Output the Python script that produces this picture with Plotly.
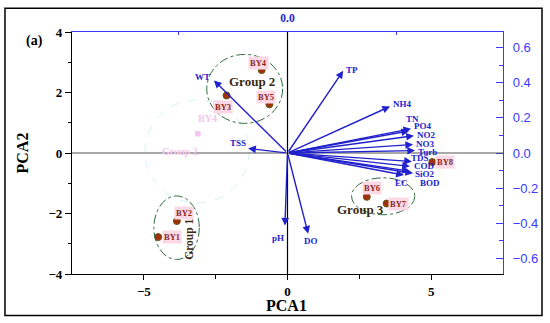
import plotly.graph_objects as go

# ---------------- data ----------------
samples = ["BY1", "BY2", "BY3", "BY4", "BY5", "BY6", "BY7", "BY8"]
pc1 = [-4.50, -3.85, -2.12, -0.90, -0.63, 2.76, 3.45, 5.04]
pc2 = [-2.78, -2.25, 1.90, 2.74, 1.61, -1.45, -1.67, -0.30]

variables = ["WT", "TSS", "TP", "NH4", "TN", "PO4", "NO2", "NO3", "Turb",
             "TDS", "COD", "SiO2", "BOD", "EC", "pH", "DO"]
load1 = [-2.56, -1.37, 1.94, 3.57, 4.23, 4.30, 4.40, 4.37, 4.44,
         4.33, 4.26, 4.26, 4.37, 4.05, -0.09, 0.72]
load2 = [2.40, 0.15, 2.72, 1.54, 0.73, 0.80, 0.57, 0.28, 0.08,
         -0.28, -0.44, -0.60, -0.67, -0.73, -2.40, -2.67]

groups = ["Group 1", "Group 2", "Group 3"]
group_cx = [-3.86, -1.49, 3.33]
group_cy = [-2.47, 2.12, -1.43]
group_rx = [0.79, 1.32, 1.10]
group_ry = [1.05, 1.14, 0.61]

x_ticks = [-5, 0, 5]
y_ticks = [-4, -2, 0, 2, 4]
y2_ticks = [-0.6, -0.4, -0.2, 0.0, 0.2, 0.4, 0.6]
y2_labels = ["\u22120.6", "\u22120.4", "\u22120.2", "0.0", "0.2", "0.4", "0.6"]

# faint residual marks visible in the source image
ghost_texts = ["BY4", "Group 2"]
ghost_x = [-2.80, -3.74]
ghost_y = [1.14, 0.05]

# ---------------- styling / layout helpers ----------------
SERIF = "Liberation Serif"
SANS = "Liberation Sans"
BLUE = "#2222cc"
AXBLUE = "#3a3aff"

var_label_shift = {
    "WT": (-11, 3), "TSS": (-10, 5), "TP": (9, 1), "NH4": (12, 2),
    "TN": (3, 12), "PO4": (11, 3), "NO2": (13, 1), "NO3": (12, 1),
    "Turb": (12, -1), "TDS": (8, 3), "COD": (15, 0), "SiO2": (15, -3),
    "BOD": (17, -10), "EC": (-2, -8), "pH": (-7, -12), "DO": (3, -7),
}
sample_label_shift = {
    "BY1": (14, 0), "BY2": (7, 8), "BY3": (-4, -11), "BY4": (-3, 7),
    "BY5": (-3, 7), "BY6": (5, 9), "BY7": (12, 0), "BY8": (13, 0),
}
group_label_pos = {"Group 1": (-3.42, -2.86, -90, 11.5),
                   "Group 2": (-1.25, 2.37, 0, 13),
                   "Group 3": (2.54, -1.88, 0, 13)}

fig = go.Figure()

# ghost dot
fig.add_trace(go.Scatter(x=[-3.12], y=[0.64], mode="markers",
                         marker=dict(size=6, color="#f6c4f0"),
                         hoverinfo="skip", showlegend=False))

# sample points
fig.add_trace(go.Scatter(
    x=pc1, y=pc2, mode="markers",
    marker=dict(size=7, color="#a3300c", line=dict(color="#5d5a18", width=1)),
    showlegend=False, hoverinfo="skip"))

# invisible trace for secondary axes
fig.add_trace(go.Scatter(x=[0], y=[0], xaxis="x2", yaxis="y2", mode="markers",
                         marker=dict(opacity=0), showlegend=False, hoverinfo="skip"))

shapes = []
# ghost circle
shapes.append(dict(type="circle", xref="x", yref="y", x0=-3.15 - 1.81, x1=-3.15 + 1.81,
                   y0=0.05 - 1.70, y1=0.05 + 1.70,
                   line=dict(color="#d2f4f4", width=1, dash="dash"), layer="below"))
# zero lines
shapes.append(dict(type="line", xref="paper", yref="y", x0=0, x1=1, y0=0, y1=0,
                   line=dict(color="#555555", width=1.2)))
shapes.append(dict(type="line", xref="x", yref="y", x0=0, x1=0, y0=-4, y1=4,
                   line=dict(color="black", width=1.2)))
# group ellipses
for cx, cy, rx, ry in zip(group_cx, group_cy, group_rx, group_ry):
    shapes.append(dict(type="circle", xref="x", yref="y",
                       x0=cx - rx, x1=cx + rx, y0=cy - ry, y1=cy + ry,
                       line=dict(color="#2f6b3c", width=1, dash="dashdot")))
# outer frame
shapes.append(dict(type="rect", xref="paper", yref="paper",
                   x0=-0.1555, x1=1.0905, y0=-0.1714, y1=1.098,
                   line=dict(color="black", width=1.5)))

annotations = []
# loading arrows
for name, lx, ly in zip(variables, load1, load2):
    annotations.append(dict(x=lx, y=ly, ax=0, ay=0, xref="x", yref="y",
                            axref="x", ayref="y", text="", showarrow=True,
                            arrowhead=2, arrowsize=1.1, arrowwidth=1.4,
                            arrowcolor=BLUE, standoff=0, startstandoff=0))
for name, lx, ly in zip(variables, load1, load2):
    dx, dy = var_label_shift[name]
    annotations.append(dict(x=lx, y=ly, xref="x", yref="y", text="<b>%s</b>" % name,
                            showarrow=False, xshift=dx, yshift=dy,
                            xanchor="center", yanchor="middle",
                            font=dict(family=SERIF, size=9, color=BLUE)))
# sample labels
for name, sx, sy in zip(samples, pc1, pc2):
    dx, dy = sample_label_shift[name]
    annotations.append(dict(x=sx, y=sy, xref="x", yref="y", text="<b>%s</b>" % name,
                            showarrow=False, xshift=dx, yshift=dy,
                            xanchor="center", yanchor="middle",
                            bgcolor="#fbd8e6", borderpad=1,
                            font=dict(family=SERIF, size=8.5, color="#8e2a1a")))
# ghost labels
for t, gx, gy in zip(ghost_texts, ghost_x, ghost_y):
    annotations.append(dict(x=gx, y=gy, xref="x", yref="y", text="<b>%s</b>" % t,
                            showarrow=False, xanchor="center", yanchor="middle",
                            font=dict(family=SERIF, size=10, color="#f6c6ef")))
# group labels
for g in groups:
    gx, gy, ang, sz = group_label_pos[g]
    annotations.append(dict(x=gx, y=gy, xref="x", yref="y", text="<b>%s</b>" % g,
                            showarrow=False, textangle=ang,
                            xanchor="center", yanchor="middle",
                            font=dict(family=SERIF, size=sz, color="#3b2a12")))
# axis titles / panel label
annotations.append(dict(x=0.4988, y=-0.1306, xref="paper", yref="paper",
                        text="<b>PCA1</b>", showarrow=False,
                        xanchor="center", yanchor="middle",
                        font=dict(family=SERIF, size=16, color="black")))
annotations.append(dict(x=-0.116, y=0.498, xref="paper", yref="paper",
                        text="<b>PCA2</b>", showarrow=False, textangle=-90,
                        xanchor="center", yanchor="middle",
                        font=dict(family=SERIF, size=16, color="black")))
annotations.append(dict(x=-0.088, y=0.963, xref="paper", yref="paper",
                        text="<b>(a)</b>", showarrow=False,
                        xanchor="center", yanchor="middle",
                        font=dict(family=SERIF, size=14, color="black")))

fig.update_layout(
    width=550, height=323,
    margin=dict(l=72, r=47, t=29, b=49),
    paper_bgcolor="white", plot_bgcolor="white",
    showlegend=False,
    shapes=shapes, annotations=annotations,
    xaxis=dict(range=[-7.5, 7.5], tickvals=x_ticks,
               ticktext=["<b>\u22125</b>", "<b>0</b>", "<b>5</b>"],
               ticks="outside", ticklen=5, tickcolor="black",
               minor=dict(tickvals=[-2.5, 2.5], ticks="outside", ticklen=4, tickcolor="black"),
               showline=True, linecolor="black", linewidth=1.2,
               showgrid=False, zeroline=False,
               tickfont=dict(family=SERIF, size=13, color="black")),
    yaxis=dict(range=[-4, 4], tickvals=y_ticks,
               ticktext=["<b>\u22124</b>", "<b>\u22122</b>", "<b>0</b>", "<b>2</b>", "<b>4</b>"],
               ticks="outside", ticklen=6, tickcolor="black",
               minor=dict(tickvals=[-3, -1, 1, 3], ticks="outside", ticklen=3, tickcolor="black"),
               showline=True, linecolor="black", linewidth=1.2,
               showgrid=False, zeroline=False,
               tickfont=dict(family=SERIF, size=13, color="black")),
    xaxis2=dict(overlaying="x", side="top", range=[-7.5, 7.5],
                tickvals=[-3.8, 0, 3.8], ticktext=["", "<b>0.0</b>", ""],
                ticks="inside", ticklen=3, tickcolor=AXBLUE,
                showline=True, linecolor=AXBLUE, linewidth=1.2,
                showgrid=False, zeroline=False, ticklabelstandoff=4,
                tickfont=dict(family=SERIF, size=11.5, color=BLUE)),
    yaxis2=dict(overlaying="y", side="right", anchor="x", range=[-0.69, 0.69],
                tickvals=y2_ticks, ticktext=y2_labels,
                ticks="inside", ticklen=7, tickcolor=AXBLUE,
                minor=dict(tickvals=[-0.5, -0.3, -0.1, 0.1, 0.3, 0.5],
                           ticks="inside", ticklen=4, tickcolor=AXBLUE),
                showline=True, linecolor=AXBLUE, linewidth=1.2,
                showgrid=False, zeroline=False, ticklabelstandoff=6,
                tickfont=dict(family=SANS, size=13, color=AXBLUE)),
)

fig.write_html("out.html",
               config={"displayModeBar": False},
               post_script="document.body.style.margin='0px';"
                           "document.body.style.overflow='hidden';")
